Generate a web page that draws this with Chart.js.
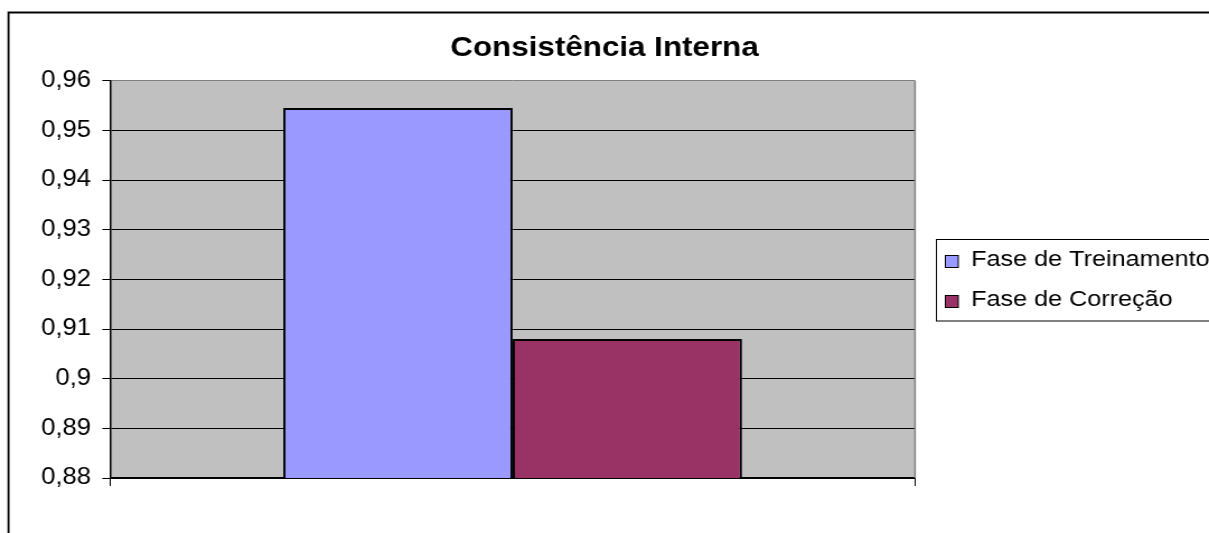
<!DOCTYPE html>
<html>
<head>
<meta charset="utf-8">
<script src="https://cdn.jsdelivr.net/npm/chart.js@4/dist/chart.umd.min.js"></script>
<style>
  html, body { margin: 0; padding: 0; background: #fff; }
  canvas { display: block; }
</style>
</head>
<body>
<!-- drawn at 1080 wide and stretched to 1209, like the original picture -->
<canvas id="myChart" width="1080" height="533" style="width:1209px;height:533px"></canvas>
<script>
var categories = [''];
var seriesLabels = ['Fase de Treinamento', 'Fase de Correção'];
var treinamento = [0.9545];
var correcao = [0.908];
var yTickLabels = ['0,88', '0,89', '0,9', '0,91', '0,92', '0,93', '0,94', '0,95', '0,96'];
var chartTitle = 'Consistência Interna';

var FONT = "'Liberation Sans', Arial, sans-serif";

var excelFrame = {
  id: 'excelFrame',
  beforeDraw: function(chart) {
    var ctx = chart.ctx, a = chart.chartArea;
    ctx.save();
    ctx.fillStyle = '#fff';
    ctx.fillRect(0, 0, chart.width, chart.height);
    // outer chart border
    ctx.strokeStyle = '#000';
    ctx.lineWidth = 1.8;
    ctx.beginPath();
    ctx.moveTo(7.6, chart.height + 2);
    ctx.lineTo(7.6, 12.5);
    ctx.lineTo(chart.width + 2, 12.5);
    ctx.stroke();
    // plot area
    ctx.fillStyle = '#C0C0C0';
    ctx.fillRect(a.left, a.top, a.right - a.left, a.bottom - a.top);
    ctx.restore();
  },
  afterDatasetsDraw: function(chart) {
    var ctx = chart.ctx, a = chart.chartArea;
    ctx.save();
    ctx.strokeStyle = '#808080';
    ctx.lineWidth = 1.5;
    ctx.beginPath();
    ctx.moveTo(a.right, a.top);
    ctx.lineTo(a.right, a.bottom);
    ctx.stroke();
    ctx.restore();
  },
  afterDraw: function(chart) {
    var ctx = chart.ctx;
    ctx.save();
    // title, centred on the whole chart object
    ctx.fillStyle = '#000';
    ctx.font = 'bold 28px ' + FONT;
    ctx.textAlign = 'center';
    ctx.textBaseline = 'middle';
    ctx.fillText(chartTitle, chart.width / 2, 48);
    // legend
    ctx.strokeStyle = '#000';
    ctx.lineWidth = 1;
    ctx.strokeRect(836.5, 239.5, 300, 81.5);
    ctx.font = '22.5px ' + FONT;
    ctx.textAlign = 'left';
    chart.data.datasets.forEach(function(ds, i) {
      var y = 260 + i * 40;
      ctx.fillStyle = ds.backgroundColor;
      ctx.fillRect(844.5, y - 4.5, 11.5, 12);
      ctx.strokeRect(844.5, y - 4.5, 11.5, 12);
      ctx.fillStyle = '#000';
      ctx.fillText(ds.label, 867.5, y);
    });
    ctx.restore();
  }
};

window.onload = function() {
  var ctx = document.getElementById('myChart');
  var myChart = new Chart(ctx, {
    type: 'bar',
    data: {
      labels: categories,
      datasets: [{
        label: seriesLabels[0],
        data: treinamento,
        backgroundColor: '#9999FF',
        borderColor: '#000',
        borderWidth: 2
      }, {
        label: seriesLabels[1],
        data: correcao,
        backgroundColor: '#993366',
        borderColor: '#000',
        borderWidth: 2
      }]
    },
    options: {
      responsive: false,
      devicePixelRatio: 1,
      animation: false,
      events: [],
      categoryPercentage: 0.57,
      barPercentage: 1,
      layout: {
        padding: { left: 0, top: 80.7, right: 262.6, bottom: 55 }
      },
      plugins: {
        legend: { display: false },
        tooltip: { enabled: false },
        title: { display: false }
      },
      scales: {
        x: {
          offset: true,
          grid: {
            offset: true,
            drawOnChartArea: false,
            tickLength: 8,
            color: '#000',
            tickColor: '#000'
          },
          border: { color: '#000', width: 2 },
          ticks: { display: false },
          afterFit: function(s) { s.height = 0; }
        },
        y: {
          min: 0.88,
          max: 0.96,
          ticks: {
            stepSize: 0.01,
            padding: 10,
            color: '#000',
            font: { family: FONT, size: 23 },
            callback: function(value, index) { return yTickLabels[index]; }
          },
          grid: {
            color: function(c) {
              return c.tick && c.tick.value > 0.9595 ? '#808080' : '#000';
            },
            tickColor: '#000',
            tickLength: 7.1,
            lineWidth: 1
          },
          border: { color: '#000', width: 1.5 },
          afterFit: function(s) { s.width = 98.5; }
        }
      }
    },
    plugins: [excelFrame]
  });
};
</script>
</body>
</html>
